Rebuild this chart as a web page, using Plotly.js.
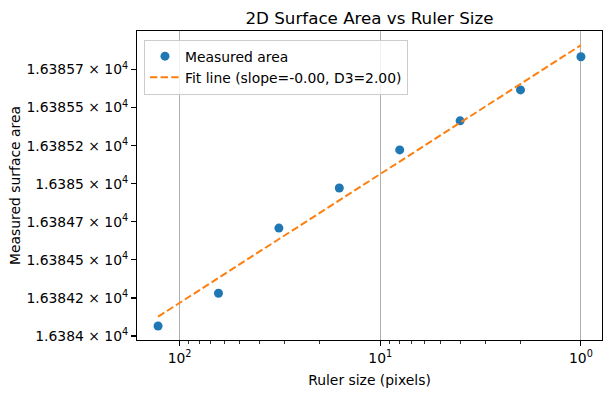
<!DOCTYPE html>
<html>
<head>
<meta charset="utf-8">
<script src="https://cdn.plot.ly/plotly-3.0.1.min.js"></script>
<style>html,body{margin:0;padding:0;background:#fff;}#chart{width:611px;height:398px;}</style>
</head>
<body>
<div id="chart"></div>
<script>
// Data
const rulerSizes = [128, 64, 32, 16, 8, 4, 2, 1];
const measuredArea = [16384.066, 16384.281, 16384.709, 16384.972, 16385.222, 16385.413, 16385.616, 16385.834];
const fitX = [128, 1];
const fitY = [16384.127, 16385.910];
const yTickVals = [16384.0, 16384.25, 16384.5, 16384.75, 16385.0, 16385.25, 16385.5, 16385.75];
const yTickLabels = ["1.6384", "1.63842", "1.63845", "1.63847", "1.6385", "1.63852", "1.63855", "1.63857"];
const xTickVals = [100, 10, 1];
const xTickLabels = ["10<sup>2</sup>", "10<sup>1</sup>", "10<sup>0</sup>"];

const xMinor = [];
[1, 10, 100].forEach(d => { for (let k = 2; k <= 9; k++) { const v = k * d; if (v <= 160) xMinor.push(v); } });

const font = "DejaVu Sans, sans-serif";

const traces = [
  {
    x: rulerSizes, y: measuredArea, type: 'scatter', mode: 'markers',
    name: 'Measured area',
    marker: {color: '#1f77b4', size: 9}
  },
  {
    x: fitX, y: fitY, type: 'scatter', mode: 'lines',
    name: 'Fit line (slope=-0.00, D3=2.00)',
    line: {color: '#ff7f0e', width: 2, dash: '7.4px,3.2px'}
  }
];

const layout = {
  width: 611, height: 398,
  margin: {l: 137, r: 9, t: 31, b: 58},
  paper_bgcolor: '#fff', plot_bgcolor: '#fff',
  font: {family: font, size: 13.9, color: '#000'},
  showlegend: true,
  title: {
    text: '2D Surface Area vs Ruler Size',
    font: {family: font, size: 16.7, color: '#000'},
    x: 0.5, xref: 'paper', xanchor: 'center',
    y: 1 - 18/398, yref: 'container', yanchor: 'middle'
  },
  xaxis: {
    type: 'log',
    range: [Math.log10(128) + 0.105, -0.105],
    tickmode: 'array', tickvals: xTickVals, ticktext: xTickLabels,
    ticks: 'outside', ticklen: 4.9, tickwidth: 1.1, tickcolor: '#000',
    showgrid: true, gridcolor: '#b0b0b0', gridwidth: 1.1,
    showline: true, linecolor: '#000', linewidth: 1.1, mirror: true,
    zeroline: false,
    tickfont: {family: font, size: 13.9, color: '#000'},
    minor: {tickmode: 'array', tickvals: xMinor, ticks: 'outside', ticklen: 2.8, tickwidth: 0.8, tickcolor: '#000', showgrid: false},
    title: {text: 'Ruler size (pixels)', font: {family: font, size: 13.9, color: '#000'}, standoff: 10}
  },
  yaxis: {
    type: 'log',
    range: [Math.log10(16383.974), Math.log10(16386.003)],
    tickmode: 'array', tickvals: yTickVals,
    ticktext: yTickLabels.map(s => s + ' × 10<sup>4</sup>'),
    ticks: 'outside', ticklen: 4.9, tickwidth: 1.1, tickcolor: '#000',
    showgrid: false,
    showline: true, linecolor: '#000', linewidth: 1.1, mirror: true,
    zeroline: false,
    tickfont: {family: font, size: 13.9, color: '#000'},
    title: {text: 'Measured surface area', font: {family: font, size: 13.9, color: '#000'}, standoff: 2}
  },
  legend: {
    x: 0.015, y: 0.972, xanchor: 'left', yanchor: 'top',
    bgcolor: 'rgba(255,255,255,0.8)', bordercolor: '#cccccc', borderwidth: 1,
    font: {family: font, size: 13.9, color: '#000'},
    itemwidth: 30
  }
};

Plotly.newPlot('chart', traces, layout, {displayModeBar: false, staticPlot: true});
</script>
</body>
</html>
